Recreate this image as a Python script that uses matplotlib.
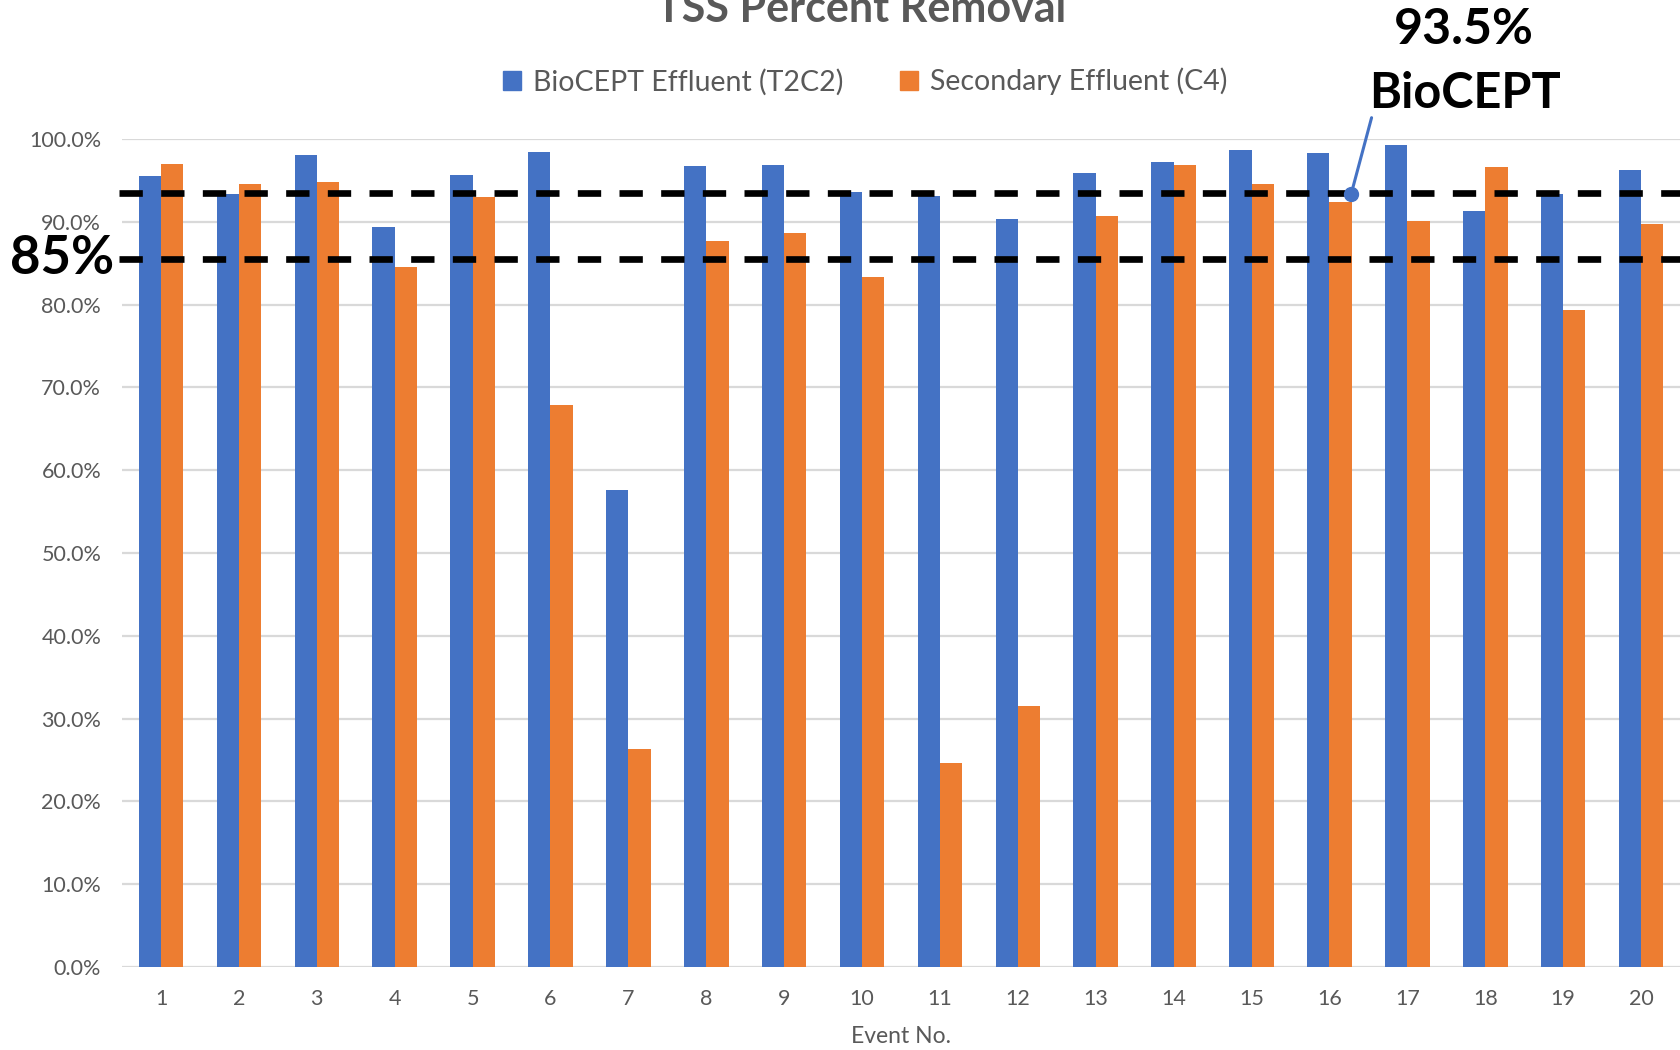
import numpy as np
import matplotlib
matplotlib.use("Agg")
import matplotlib.pyplot as plt
from matplotlib.patches import Patch
from matplotlib.ticker import FuncFormatter

plt.rcParams['font.family'] = ['Lato', 'DejaVu Sans']

events = [str(i) for i in range(1, 21)]
biocept = [95.5, 93.3, 98.1, 89.4, 95.7, 98.4, 57.6, 96.7, 96.9, 93.6,
           93.1, 90.4, 95.9, 97.2, 98.7, 98.3, 99.3, 91.3, 93.3, 96.3]
secondary = [97.0, 94.6, 94.8, 84.5, 93.0, 67.9, 26.3, 87.7, 88.7, 83.3,
             24.6, 31.5, 90.7, 96.9, 94.6, 92.4, 90.1, 96.6, 79.4, 89.7]
series_names = ["BioCEPT Effluent (T2C2)", "Secondary Effluent (C4)"]
ref_lines = [93.5, 85.5]

blue = "#4472C4"
orange = "#ED7D31"
gray = "#595959"

fig = plt.figure(figsize=(16.81, 10.5), dpi=100)
ax = fig.add_axes([0.0726, 0.079, 0.9268, 0.7886])

x = np.arange(1, len(events) + 1)
w = 0.286
ax.bar(x - w / 2, biocept, w, color=blue, zorder=3)
ax.bar(x + w / 2, secondary, w, color=orange, zorder=3)

ax.set_xlim(0.5, len(events) + 0.5)
ax.set_ylim(0, 100)
ax.set_yticks(np.arange(0, 101, 10))
ax.yaxis.set_major_formatter(FuncFormatter(lambda v, p: "%.1f%%" % v))
ax.set_xticks(x)
ax.set_xticklabels(events)
ax.grid(axis='y', color="#d9d9d9", linewidth=1.6, zorder=0)
ax.tick_params(length=0, labelsize=15.5, labelcolor=gray)
ax.tick_params(axis='y', pad=15)
ax.tick_params(axis='x', pad=16)
for s in ax.spines.values():
    s.set_visible(False)
ax.set_xlabel("Event No.", fontsize=16.5, color=gray, labelpad=12)

# dashed reference lines
for y in ref_lines:
    ax.plot([0.455, len(events) + 0.5], [y, y], color="black", lw=4.8,
            dashes=(3.5, 2.75), zorder=4, clip_on=False, solid_capstyle='butt',
            dash_capstyle='butt')

fig.text(62 / 1681, 1 - 259 / 1050, "85%", ha='center', va='center',
         fontsize=38, fontweight='bold', color='black')
ax.annotate("", xy=(16.28, 93.4), xytext=(16.55, 102.9),
            arrowprops=dict(arrowstyle='-', color=blue, lw=2.2), annotation_clip=False)
ax.plot([16.28], [93.4], 'o', color=blue, ms=10, zorder=5, clip_on=False)
fig.text(1464 / 1681, 1 - 30 / 1050, "93.5%", ha='center', va='center',
         fontsize=36, fontweight='bold', color='black')
fig.text(1465 / 1681, 1 - 93 / 1050, "BioCEPT", ha='center', va='center',
         fontsize=35, fontweight='bold', color='black')

fig.text(861 / 1681, 1 - 22 / 1050, "TSS Percent Removal", ha='center',
         va='baseline', fontsize=31, fontweight='bold', color=gray)

handles = [Patch(color=blue), Patch(color=orange)]
fig.legend(handles, series_names, loc='center', ncol=2, frameon=False,
           bbox_to_anchor=(865 / 1681, 1 - 81.5 / 1050), fontsize=20.5,
           handlelength=0.65, handleheight=0.65, handletextpad=0.4,
           columnspacing=2.0, labelcolor=gray)

fig.savefig("out.png", dpi=100)
